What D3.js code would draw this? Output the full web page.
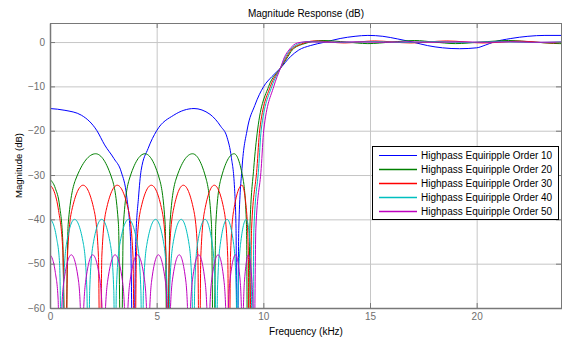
<!DOCTYPE html>
<html>
<head>
<meta charset="utf-8">
<script src="https://cdn.jsdelivr.net/npm/d3@7"></script>
<style>
  body { margin: 0; background: #fff; }
  svg { display: block; font-family: "Liberation Sans", Arial, sans-serif; }
  .axis text { fill: #6e6e6e; font-size: 10px; }
  .axis path, .axis line { stroke: #787878; }
  .axis--left path, .axis--bottom path { stroke-width: 1.5; }
  .grid line { stroke: #c6c6c6; }
  .grid path { display: none; }
</style>
</head>
<body>
<svg id="chart" width="562" height="340"></svg>
<script>
// [frequency kHz, magnitude dB]; nulls pushed below -60 and clipped
var order10 = [
  [0,-15],[0.7,-15.4],[1.47,-16.5],[2.2,-20],[2.56,-23.2],[3.0,-26.3],[3.34,-29.3],[3.6,-35],[3.78,-45],[3.9,-80],
  [4.02,-45],[4.15,-35],[4.27,-29],[4.6,-24],[5.0,-20],[5.8,-16.5],[6.75,-15],[7.5,-16.3],[8.0,-19],[8.3,-21.5],[8.5,-26],[8.65,-33],[8.72,-42],[8.77,-80],
  [8.85,-42],[9.0,-28.5],[9.24,-19.85],[9.6,-14.3],[10.02,-10],[10.4,-7.8],[10.8,-5.9],[11.27,-3.3],[11.66,-1.8],[12.2,-0.8],[12.9,0],
  [13.6,0.8],[14.3,1.3],[14.9,1.5],[15.6,1.3],[16.3,0.7],[17.0,0],[17.7,-0.8],[18.4,-1.3],[19.2,-1.5],[20.0,-1.3],[20.4,-0.7],[20.8,0],
  [21.6,0.8],[22.4,1.3],[23.2,1.5],[24,1.5]
];

var order20 = [
  [0,-31],[0.25,-33],[0.45,-37],[0.6,-45],[0.71,-80],
  [0.85,-41.2],[1.21,-30.9],[2.14,-25.2],[2.91,-30.9],[3.21,-41.2],[3.33,-80],
  [3.44,-41.2],[3.72,-30.9],[4.45,-25.2],[5.13,-30.9],[5.4,-41.2],[5.5,-80],
  [5.62,-41.2],[5.91,-30.9],[6.68,-25.2],[7.32,-30.9],[7.57,-41.2],[7.67,-80],
  [7.77,-41.2],[8.01,-30.9],[8.63,-25.2],[9.05,-30.9],[9.21,-41.2],[9.27,-80],
  [9.37,-42],[9.55,-28.5],[9.73,-19.85],[10.25,-10],[10.8,-5.9],[11.15,-3.3],[11.35,-1.8],[11.9,-0.4],[12.8,0.35],
  [13.9,0],[14.9,-0.35],[16.0,0],[17.1,0.35],[18.0,0],[19.0,-0.35],[20.2,0],[21.5,0.35],[22.7,0],[23.9,-0.35],[24,-0.35]
];

var order30 = [
  [0,-32.3],[0.2,-33.8],[0.4,-38],[0.6,-47],[0.74,-80],
  [0.82,-48.3],[1.02,-38],[1.55,-32.3],[2.07,-38],[2.27,-48.3],[2.35,-80],
  [2.43,-48.3],[2.63,-38],[3.15,-32.3],[3.68,-38],[3.89,-48.3],[3.97,-80],
  [4.05,-48.3],[4.24,-38],[4.75,-32.3],[5.25,-38],[5.44,-48.3],[5.52,-80],
  [5.59,-48.3],[5.78,-38],[6.25,-32.3],[6.74,-38],[6.93,-48.3],[7.0,-80],
  [7.07,-48.3],[7.25,-38],[7.7,-32.3],[8.16,-38],[8.33,-48.3],[8.4,-80],
  [8.46,-48.3],[8.61,-38],[9.0,-32.3],[9.21,-38],[9.3,-48.3],[9.33,-80],
  [9.45,-42],[9.7,-28.5],[9.83,-19.85],[10.33,-10],[10.8,-5.9],[11.1,-3.3],[11.3,-1.8],[11.8,-0.4],[12.4,0.25],
  [13.8,-0.2],[15.2,0.25],[16.9,-0.2],[18.6,0.25],[20.3,-0.2],[22.0,0.2],[23.5,-0.2],[24,-0.1]
];

var order40 = [
  [0,-40],[0.15,-41],[0.3,-44],[0.45,-50],[0.57,-80],
  [0.63,-56],[0.77,-45.65],[1.15,-40],[1.57,-45.65],[1.73,-56],[1.8,-80],
  [1.86,-56],[2.02,-45.65],[2.42,-40],[2.83,-45.65],[2.99,-56],[3.05,-80],
  [3.11,-56],[3.27,-45.65],[3.68,-40],[4.10,-45.65],[4.26,-56],[4.32,-80],
  [4.38,-56],[4.54,-45.65],[4.95,-40],[5.34,-45.65],[5.49,-56],[5.55,-80],
  [5.61,-56],[5.76,-45.65],[6.15,-40],[6.52,-45.65],[6.66,-56],[6.72,-80],
  [6.78,-56],[6.91,-45.65],[7.27,-40],[7.61,-45.65],[7.75,-56],[7.8,-80],
  [7.85,-56],[7.98,-45.65],[8.3,-40],[8.61,-45.65],[8.73,-56],[8.78,-80],
  [8.82,-56],[8.93,-45.65],[9.2,-40],[9.38,-45.65],[9.44,-56],[9.47,-80],
  [9.56,-42],[9.78,-28.5],[9.9,-19.85],[10.4,-10],[10.8,-5.9],[11.05,-3.3],[11.25,-1.8],[11.7,-0.3],[12.1,0.1],
  [13.6,-0.1],[15.1,0.1],[16.6,-0.1],[18.1,0.1],[19.6,-0.1],[21.1,0.1],[22.6,-0.1],[24,0.05]
];

var order50 = [
  [0,-48],[0.12,-49],[0.25,-52],[0.38,-58],[0.47,-80],
  [0.52,-64],[0.66,-53.65],[1.0,-48],[1.33,-53.65],[1.45,-64],[1.5,-80],
  [1.55,-64],[1.68,-53.65],[2.0,-48],[2.34,-53.65],[2.47,-64],[2.52,-80],
  [2.57,-64],[2.71,-53.65],[3.05,-48],[3.39,-53.65],[3.52,-64],[3.57,-80],
  [3.62,-64],[3.76,-53.65],[4.1,-48],[4.43,-53.65],[4.55,-64],[4.6,-80],
  [4.65,-64],[4.77,-53.65],[5.08,-48],[5.4,-53.65],[5.52,-64],[5.57,-80],
  [5.62,-64],[5.74,-53.65],[6.06,-48],[6.36,-53.65],[6.47,-64],[6.52,-80],
  [6.56,-64],[6.68,-53.65],[6.97,-48],[7.26,-53.65],[7.38,-64],[7.42,-80],
  [7.47,-64],[7.58,-53.65],[7.88,-48],[8.15,-53.65],[8.26,-64],[8.3,-80],
  [8.34,-64],[8.44,-53.65],[8.7,-48],[8.91,-53.65],[8.99,-64],[9.02,-80],
  [9.05,-64],[9.12,-53.65],[9.3,-48],[9.46,-53.65],[9.53,-64],[9.55,-80],
  [9.65,-42],[9.9,-28.5],[10.02,-19.85],[10.49,-10],[10.8,-5.9],[11.0,-3.3],[11.2,-1.8],[11.6,-0.2],[12.0,0.05],
  [13.2,-0.05],[14.4,0.05],[15.6,-0.05],[16.8,0.05],[18.0,-0.05],[19.2,0.05],[20.4,-0.05],[21.6,0.05],[22.8,-0.05],[24,0]
];

var seriesNames = ["Highpass Equiripple Order 10", "Highpass Equiripple Order 20", "Highpass Equiripple Order 30",
                   "Highpass Equiripple Order 40", "Highpass Equiripple Order 50"];
var seriesColors = ["#0000ff", "#008000", "#ff0000", "#00bfbf", "#bf00bf"];
var seriesData = [order10, order20, order30, order40, order50];

var xTicks = [0, 5, 10, 15, 20];
var yTicks = [0, -10, -20, -30, -40, -50, -60];

var svg = d3.select("#chart"),
    margin = {top: 23, right: 0, bottom: 32, left: 50},
    width = 562 - margin.left - margin.right,
    height = 340 - margin.top - margin.bottom,
    g = svg.append("g").attr("transform", "translate(" + margin.left + "," + margin.top + ")");

var x = d3.scaleLinear().domain([0, 24]).range([0, width]);
var y = d3.scaleLinear().domain([-60, 4.3]).range([height, 0]);

// grid
g.append("g")
    .attr("class", "grid")
    .call(d3.axisBottom(x).tickValues(xTicks.slice(1)).tickSize(height).tickFormat(""));
g.append("g")
    .attr("class", "grid")
    .call(d3.axisLeft(y).tickValues(yTicks.slice(0, -1)).tickSize(-width).tickFormat(""));

svg.append("defs").append("clipPath")
    .attr("id", "plot-clip")
  .append("rect")
    .attr("width", width)
    .attr("height", height);

var line = d3.line()
    .x(function(d) { return x(d[0]); })
    .y(function(d) { return y(d[1]); })
    .curve(d3.curveMonotoneX);

g.append("g")
    .attr("clip-path", "url(#plot-clip)")
  .selectAll(".serie")
  .data(seriesData)
  .enter().append("path")
    .attr("class", "serie")
    .attr("fill", "none")
    .attr("stroke", function(d, i) { return seriesColors[i]; })
    .attr("stroke-width", 1)
    .attr("d", line);

// axes, ticks pointing inward like the original
g.append("g")
    .attr("class", "axis axis--bottom")
    .attr("transform", "translate(0," + height + ")")
    .call(d3.axisBottom(x).tickValues(xTicks).tickSizeInner(-5).tickSizeOuter(0).tickPadding(5));
g.append("g")
    .attr("class", "axis axis--left")
    .call(d3.axisLeft(y).tickValues(yTicks).tickSizeInner(-5).tickSizeOuter(0).tickPadding(5));
g.append("g")
    .attr("class", "axis axis--top")
    .call(d3.axisTop(x).tickValues(xTicks).tickSizeInner(-5).tickSizeOuter(0).tickFormat(""));
g.append("g")
    .attr("class", "axis axis--right")
    .attr("transform", "translate(" + (width - 1) + ",0)")
    .call(d3.axisRight(y).tickValues(yTicks).tickSizeInner(-5).tickSizeOuter(0).tickFormat(""));

// titles
svg.append("text")
    .attr("x", margin.left + width / 2)
    .attr("y", 16.5)
    .attr("text-anchor", "middle")
    .style("font-size", "10px")
    .text("Magnitude Response (dB)");
svg.append("text")
    .attr("x", margin.left + width / 2)
    .attr("y", 334.5)
    .attr("text-anchor", "middle")
    .style("font-size", "10px")
    .text("Frequency (kHz)");
svg.append("text")
    .attr("transform", "translate(21.5," + (margin.top + height / 2) + ") rotate(-90)")
    .attr("text-anchor", "middle")
    .style("font-size", "9.5px")
    .text("Magnitude (dB)");

// legend
var legend = svg.append("g").attr("transform", "translate(372.5,146.5)");
legend.append("rect")
    .attr("width", 186)
    .attr("height", 73)
    .attr("fill", "#fff")
    .attr("stroke", "#000");
var item = legend.selectAll(".legend")
    .data(seriesNames)
  .enter().append("g")
    .attr("class", "legend")
    .attr("transform", function(d, i) { return "translate(0," + (9 + i * 14) + ")"; });
item.append("line")
    .attr("x1", 6.5)
    .attr("x2", 44.5)
    .attr("stroke", function(d, i) { return seriesColors[i]; })
    .attr("stroke-width", function(d, i) { return i == 0 ? 1 : 1.5; });
item.append("text")
    .attr("x", 48.5)
    .attr("dy", ".35em")
    .style("font-size", "10px")
    .text(function(d) { return d; });
</script>
</body>
</html>
